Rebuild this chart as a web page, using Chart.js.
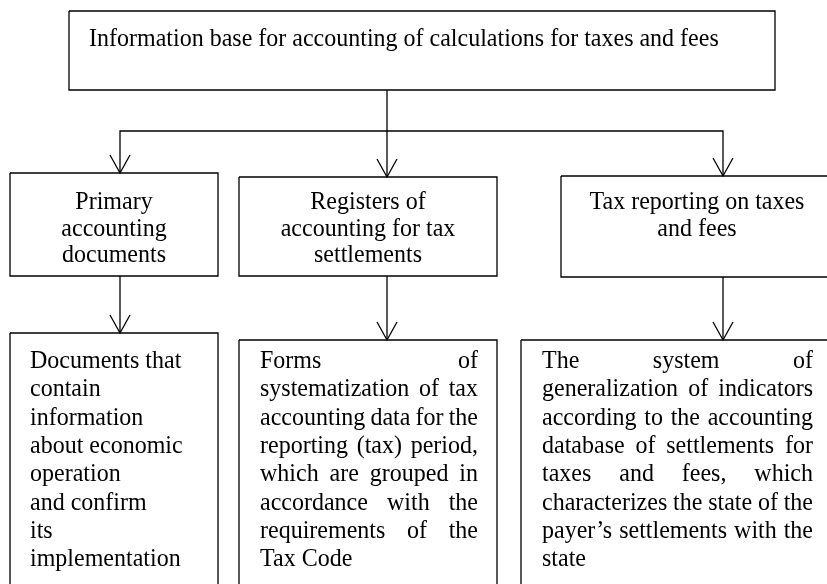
<!DOCTYPE html>
<html>
<head>
<meta charset="utf-8">
<script src="https://cdn.jsdelivr.net/npm/chart.js@4"></script>
<style>
  html, body { margin: 0; padding: 0; background: #fff; }
  #wrap { width: 827px; height: 584px; }
</style>
</head>
<body>
<div id="wrap"><canvas id="c" width="827" height="584"></canvas></div>
<script>
// ---------- content (text of the diagram) ----------
const rootLabel = "Information base for accounting of calculations for taxes and fees";
const levelOneLabels = [
  ["Primary", "accounting", "documents"],
  ["Registers of", "accounting for tax", "settlements"],
  ["Tax reporting on taxes", "and fees"]
];
const levelTwoLabels = [
  ["Documents that", "contain", "information", "about economic", "operation", "and confirm", "its", "implementation"],
  ["Forms of", "systematization of tax", "accounting data for the", "reporting (tax) period,", "which are grouped in", "accordance with the", "requirements of the", "Tax Code"],
  ["The system of", "generalization of indicators", "according to the accounting", "database of settlements for", "taxes and fees, which", "characterizes the state of the", "payer\u2019s settlements with the", "state"]
];
const levelTwoAlign = ["left", "justify", "justify"];

// ---------- layout (diagram coordinates, separate from content) ----------
const layout = {
  root: { x0: 69, y0: 11, x1: 775, y1: 90, textX: 89, baseline: 46 },
  one: [
    { x0: 10, y0: 173, x1: 218, y1: 276 },
    { x0: 239, y0: 177, x1: 497, y1: 276 },
    { x0: 561, y0: 176, x1: 833, y1: 277 }
  ],
  two: [
    { x0: 10, y0: 333, x1: 218, y1: 600, padL: 20, padR: 19 },
    { x0: 239, y0: 340, x1: 497, y1: 600, padL: 21, padR: 19 },
    { x0: 521, y0: 340, x1: 835, y1: 600, padL: 21, padR: 22 }
  ],
  arrowX: [120, 387, 723],
  rootStemX: 387,
  busY: 131,
  oneBaseline: 209, oneSpacing: 26.7,
  twoBaseline: 368, twoSpacing: 28.3,
  headW: 10, headH: 18
};
const style = { font: "25px 'Liberation Serif', 'Times New Roman', serif", sx: 0.96, color: "#000", lw: 1.3 };

// ---------- build line datasets from layout ----------
function rectPts(b) {
  return [{x:b.x0,y:b.y0},{x:b.x1,y:b.y0},{x:b.x1,y:b.y1},{x:b.x0,y:b.y1},{x:b.x0,y:b.y0}];
}
function headPts(x, tipY) {
  return [{x:x-layout.headW,y:tipY-layout.headH},{x:x,y:tipY},{x:x+layout.headW,y:tipY-layout.headH}];
}
const polylines = [];
polylines.push(rectPts(layout.root));
layout.one.forEach(b => polylines.push(rectPts(b)));
layout.two.forEach(b => polylines.push(rectPts(b)));
// root stem straight down to the middle box
polylines.push([{x:layout.rootStemX,y:layout.root.y1},{x:layout.rootStemX,y:layout.one[1].y0}]);
polylines.push(headPts(layout.rootStemX, layout.one[1].y0));
// horizontal bus and outer drops
const ax = layout.arrowX;
polylines.push([{x:ax[0],y:layout.one[0].y0},{x:ax[0],y:layout.busY},{x:ax[2],y:layout.busY},{x:ax[2],y:layout.one[2].y0}]);
polylines.push(headPts(ax[0], layout.one[0].y0));
polylines.push(headPts(ax[2], layout.one[2].y0));
// level one -> level two
for (let i = 0; i < 3; i++) {
  polylines.push([{x:ax[i],y:layout.one[i].y1},{x:ax[i],y:layout.two[i].y0}]);
  polylines.push(headPts(ax[i], layout.two[i].y0));
}

const datasets = polylines.map(pts => ({
  data: pts, showLine: true, pointRadius: 0, pointHoverRadius: 0,
  borderColor: style.color, borderWidth: style.lw, fill: false, tension: 0
}));

// ---------- text plugin ----------
const textPlugin = {
  id: 'diagramText',
  afterDatasetsDraw(chart) {
    const ctx = chart.ctx, xs = chart.scales.x, ys = chart.scales.y;
    const X = v => xs.getPixelForValue(v), Y = v => ys.getPixelForValue(v);
    ctx.save();
    ctx.font = style.font;
    ctx.fillStyle = style.color;
    ctx.textBaseline = 'alphabetic';
    const w = s => ctx.measureText(s).width * style.sx;
    const put = (s, x, y) => {
      ctx.save(); ctx.translate(x, y); ctx.scale(style.sx, 1);
      ctx.textAlign = 'left'; ctx.fillText(s, 0, 0); ctx.restore();
    };
    // root
    put(rootLabel, X(layout.root.textX), Y(layout.root.baseline));
    // level one centered
    levelOneLabels.forEach((lines, i) => {
      const b = layout.one[i];
      const cx = X((b.x0 + b.x1) / 2);
      lines.forEach((s, k) => {
        put(s, cx - w(s) / 2, Y(layout.oneBaseline + k * layout.oneSpacing));
      });
    });
    // level two
    levelTwoLabels.forEach((lines, i) => {
      const b = layout.two[i];
      const left = X(b.x0 + b.padL), right = X(b.x1 - b.padR);
      lines.forEach((s, k) => {
        const y = Y(layout.twoBaseline + k * layout.twoSpacing);
        const words = s.split(' ');
        if (levelTwoAlign[i] === 'justify' && k < lines.length - 1 && words.length > 1) {
          const total = words.reduce((a, t) => a + w(t), 0);
          const gap = (right - left - total) / (words.length - 1);
          let x = left;
          words.forEach(t => { put(t, x, y); x += w(t) + gap; });
        } else {
          put(s, left, y);
        }
      });
    });
    ctx.restore();
  }
};

new Chart(document.getElementById('c'), {
  type: 'scatter',
  data: { datasets },
  options: {
    responsive: false, animation: false, events: [],
    layout: { padding: 0 },
    plugins: { legend: { display: false }, tooltip: { enabled: false } },
    scales: {
      x: { type: 'linear', min: 0, max: 827, display: false },
      y: { type: 'linear', min: 0, max: 584, reverse: true, display: false }
    }
  },
  plugins: [textPlugin]
});
</script>
</body>
</html>
